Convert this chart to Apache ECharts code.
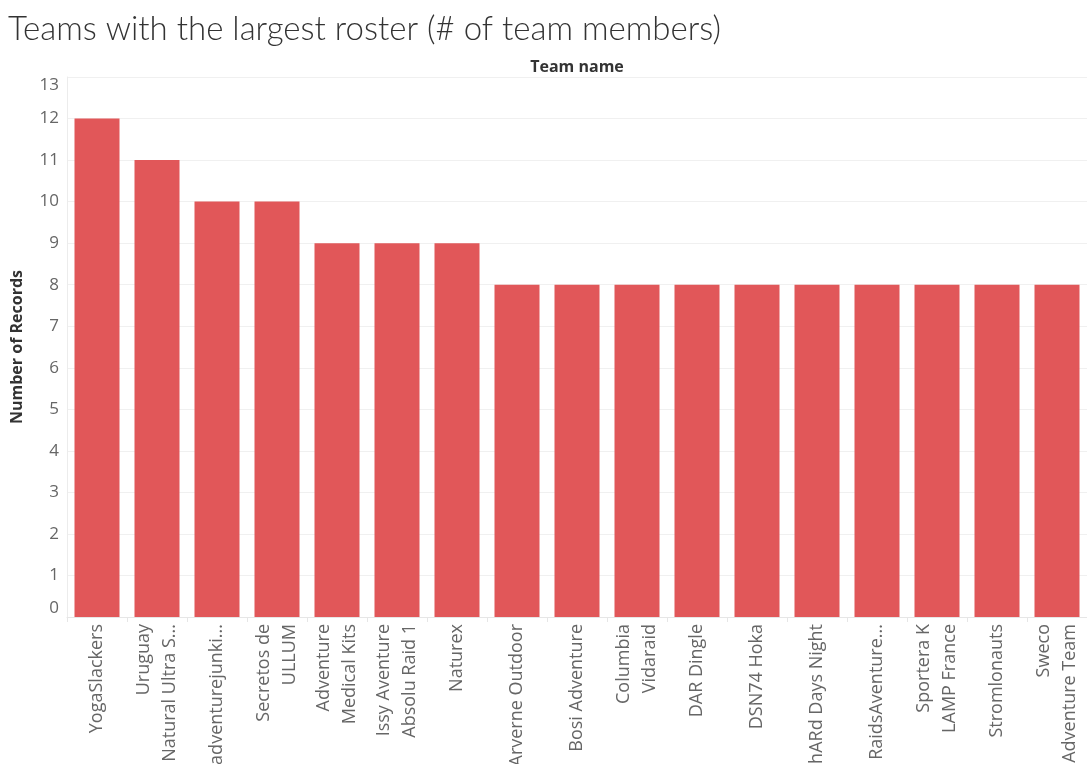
<!DOCTYPE html>
<html>
<head>
<meta charset="utf-8">
<script src="https://cdn.jsdelivr.net/npm/echarts@6/dist/echarts.min.js"></script>
<style>
  html, body { margin: 0; padding: 0; background: #fff; }
  #chart { width: 1087px; height: 764px; }
</style>
</head>
<body>
<div id="chart"></div>
<script>
  // team names as shown on the axis (Tableau wraps / truncates them)
  var teams = [
    'YogaSlackers',
    'Uruguay\nNatural Ultra S...',
    'adventurejunki...',
    'Secretos de\nULLUM',
    'Adventure\nMedical Kits',
    'Issy Aventure\nAbsolu Raid 1',
    'Naturex',
    'Arverne Outdoor',
    'Bosi Adventure',
    'Columbia\nVidaraid',
    'DAR Dingle',
    'DSN74 Hoka',
    'hARd Days Night',
    'RaidsAventure...',
    'Sportera K\nLAMP France',
    'Stromlonauts',
    'Sweco\nAdventure Team'
  ]
  var records = [12, 11, 10, 10, 9, 9, 9, 8, 8, 8, 8, 8, 8, 8, 8, 8, 8]

  var chart = echarts.init(document.getElementById('chart'))
  chart.setOption({
    animation: false,
    title: {
      text: 'Teams with the largest roster (# of team members)',
      left: 3,
      top: 8,
      textStyle: {
        fontFamily: 'Lato',
        fontWeight: 300,
        fontSize: 33,
        color: '#333'
      }
    },
    grid: {
      left: 67,
      right: 0,
      top: 77,
      bottom: 147,
      containLabel: false,
      outerBoundsMode: 'none'
    },
    xAxis: [{
      type: 'category',
      data: teams,
      name: 'Team name',
      nameLocation: 'middle',
      nameGap: 2,
      position: 'top',
      nameTextStyle: {
        fontFamily: 'Open Sans',
        fontWeight: 'bold',
        fontSize: 16,
        color: '#333',
        verticalAlign: 'bottom'
      },
      axisLine: { show: false },
      axisTick: { show: false },
      axisLabel: { show: false }
    }, {
      type: 'category',
      data: teams,
      position: 'bottom',
      axisLine: { show: true, lineStyle: { color: '#e6e6e6' } },
      axisTick: { show: true, length: 5, lineStyle: { color: '#e6e6e6' } },
      axisLabel: {
        rotate: 90,
        interval: 0,
        margin: 7,
        fontFamily: 'Open Sans',
        fontSize: 18,
        lineHeight: 26,
        color: '#666'
      }
    }],
    yAxis: {
      type: 'value',
      min: 0,
      max: 13,
      interval: 1,
      name: 'Number of Records',
      nameLocation: 'middle',
      nameGap: 42,
      nameTextStyle: {
        fontFamily: 'Open Sans',
        fontWeight: 'bold',
        fontSize: 16,
        color: '#333'
      },
      axisLine: { show: true, lineStyle: { color: '#ececec' } },
      axisTick: { show: false },
      axisLabel: {
        fontFamily: 'Open Sans',
        fontSize: 17,
        color: '#666',
        margin: 8,
        verticalAlignMinLabel: 'bottom',
        verticalAlignMaxLabel: 'top'
      },
      splitLine: { lineStyle: { color: '#f0f0f0' } }
    },
    series: [{
      type: 'bar',
      xAxisIndex: 1,
      data: records,
      barCategoryGap: '25%',
      itemStyle: { color: '#e15759' }
    }]
  })
</script>
</body>
</html>
